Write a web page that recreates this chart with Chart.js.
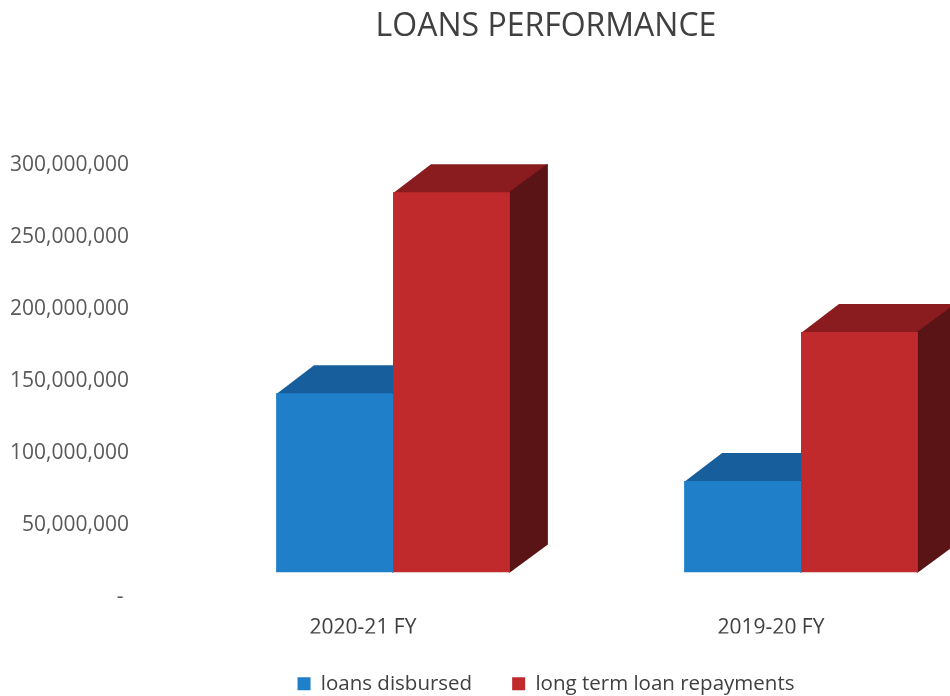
<!DOCTYPE html>
<html>
<head>
<meta charset="utf-8">
<title>Loans Performance</title>
<script src="https://cdn.jsdelivr.net/npm/chart.js@4.4.1/dist/chart.umd.min.js"></script>
<style>
    html, body { margin: 0; padding: 0; background: #ffffff; overflow: hidden; }
    #loansChart { display: block; }
</style>
</head>
<body>
<!-- canvas is a bit larger than the window: the original chart is cropped on the right -->
<canvas id="loansChart" width="1092" height="704"></canvas>
<script>
// Chart data
const categories = ['2020-21 FY', '2019-20 FY'];
const loansDisbursed = [124500000, 63500000];
const loanRepayments = [264000000, 167000000];
const yTicks = [0, 50000000, 100000000, 150000000, 200000000, 250000000, 300000000];

// depth of the fake 3D boxes, in pixels
const DEPTH_X = 38;
const DEPTH_Y = 28;

const FONT = "'Open Sans', 'DejaVu Sans', sans-serif";

/**
 * Draws the top and right side faces of every bar before the
 * front faces (the normal bars) are painted over them
 */
const bar3dPlugin = {
    id: 'bar3d',
    beforeDatasetsDraw(chart) {
        const c = chart.ctx;
        c.save();
        chart.data.datasets.forEach((ds, i) => {
            const meta = chart.getDatasetMeta(i);
            meta.data.forEach(bar => {
                const p = bar.getProps(['x', 'y', 'base', 'width'], true);
                const left = p.x - p.width / 2;
                const right = p.x + p.width / 2;

                // top face
                c.fillStyle = ds.topColor;
                c.beginPath();
                c.moveTo(left, p.y + 1);
                c.lineTo(left + DEPTH_X, p.y - DEPTH_Y);
                c.lineTo(right + DEPTH_X, p.y - DEPTH_Y);
                c.lineTo(right, p.y + 1);
                c.closePath();
                c.fill();

                // side face
                c.fillStyle = ds.sideColor;
                c.beginPath();
                c.moveTo(right - 1, p.y);
                c.lineTo(right + DEPTH_X - 1, p.y - DEPTH_Y);
                c.lineTo(right + DEPTH_X, p.y - DEPTH_Y);
                c.lineTo(right + DEPTH_X, p.base - DEPTH_Y);
                c.lineTo(right, p.base);
                c.lineTo(right - 1, p.base);
                c.closePath();
                c.fill();
            });
        });
        c.restore();
    }
};

document.addEventListener('DOMContentLoaded', function() {
    const ctx = document.getElementById('loansChart');

    new Chart(ctx, {
        type: 'bar',
        data: {
            labels: categories,
            datasets: [{
                label: 'loans disbursed',
                data: loansDisbursed,
                backgroundColor: '#1f7fc8',
                topColor: '#165f9c',
                sideColor: '#0f4170',
                borderWidth: 0
            }, {
                label: 'long term loan repayments',
                data: loanRepayments,
                backgroundColor: '#c02a2c',
                topColor: '#8a1b1e',
                sideColor: '#5a1416',
                borderWidth: 0
            }]
        },
        options: {
            responsive: false,
            maintainAspectRatio: false,
            animation: false,
            events: [],
            datasets: {
                bar: {
                    barPercentage: 1.0,
                    categoryPercentage: 0.573
                }
            },
            layout: {
                padding: 0
            },
            plugins: {
                title: {
                    display: true,
                    text: 'LOANS PERFORMANCE',
                    color: '#404040',
                    font: { family: FONT, size: 32, weight: 'normal' },
                    padding: { top: 8, bottom: 94 }
                },
                legend: {
                    display: true,
                    position: 'bottom',
                    labels: {
                        color: '#404040',
                        font: { family: FONT, size: 20.5 },
                        boxWidth: 13,
                        boxHeight: 13,
                        padding: 40
                    }
                },
                tooltip: { enabled: false }
            },
            scales: {
                x: {
                    grid: { display: false, drawTicks: false },
                    border: { display: false },
                    afterFit: s => { s.height = 61; },
                    ticks: {
                        color: '#404040',
                        padding: 43,
                        labelOffset: -30,
                        font: { family: FONT, size: 21 }
                    }
                },
                y: {
                    min: 0,
                    max: 300000000,
                    afterBuildTicks: s => { s.ticks = yTicks.map(v => ({ value: v })); },
                    afterFit: s => { s.width = 189; },
                    grid: { display: false, drawTicks: false },
                    border: { display: false },
                    ticks: {
                        color: '#595959',
                        padding: 60,
                        labelOffset: 25,
                        font: { family: FONT, size: 21 },
                        callback: v => v === 0 ? '- ' : v.toLocaleString('en-US')
                    }
                },
                // empty right-hand space, so title and legend stay centred on the whole canvas
                yRight: {
                    type: 'linear',
                    position: 'right',
                    grid: { display: false, drawTicks: false },
                    border: { display: false },
                    ticks: { display: false },
                    afterFit: s => { s.width = 87; }
                }
            }
        },
        plugins: [bar3dPlugin]
    });
});
</script>
</body>
</html>
